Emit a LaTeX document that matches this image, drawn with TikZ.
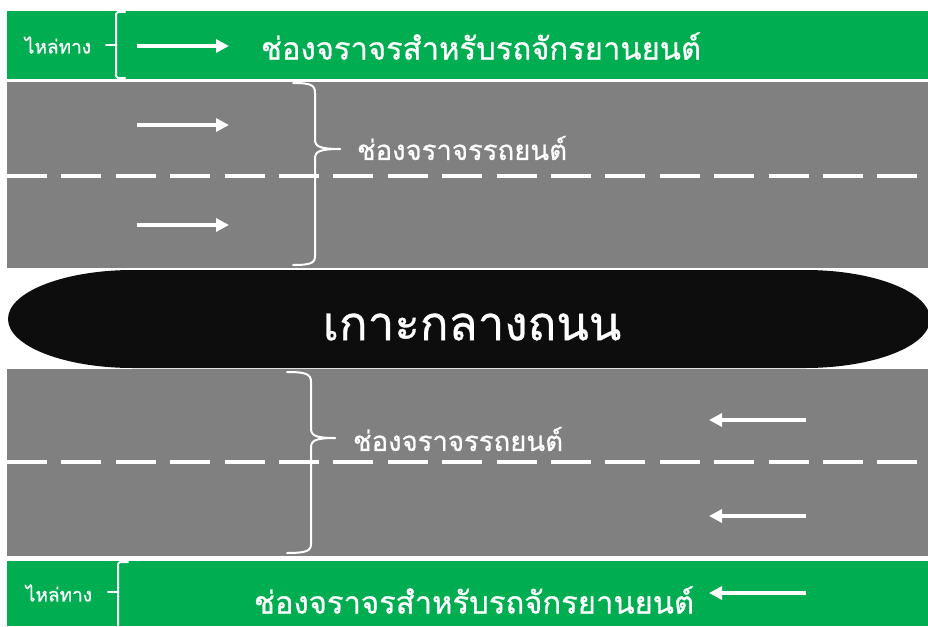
\documentclass[tikz,border=0pt]{standalone}
\usepackage{fontspec}
\newfontfamily\thai[Script=Thai,FakeBold=0.7]{Loma}
\usetikzlibrary{arrows.meta}
\definecolor{lanegreen}{RGB}{0,173,80}
\definecolor{roadgray}{RGB}{128,128,128}
\definecolor{islandblack}{RGB}{13,13,13}
\tikzset{
  band/.style={fill=#1, draw=none},
  lanedash/.style={draw=white, line width=4pt, dash pattern=on 40pt off 14.4pt},
  dirarrow/.style={draw=white, line width=3.5pt, -{Triangle[length=13pt,width=13pt]}},
  bracket/.style={draw=white, line width=2pt, line cap=round},
  lbl/.style={text=white, inner sep=0pt, font=\thai},
}
\begin{document}
\begin{tikzpicture}[x=1pt,y=-1pt]
\useasboundingbox[fill=white] (0,0) rectangle (928,626);
% bands
\path[band=lanegreen] (7,11) rectangle (928,79);
\path[band=roadgray] (7,82) rectangle (928,268);
\path[band=roadgray] (7,369) rectangle (928,556);
\path[band=lanegreen] (7,561) rectangle (928,626);
% island
\path[fill=islandblack] (133,270) -- (805,270)
  arc[start angle=-90,end angle=90,x radius=125,y radius=49]
  -- (133,368)
  arc[start angle=90,end angle=270,x radius=125,y radius=49] -- cycle;
% dashed lane lines
\coordinate (d1a) at (7,176); \coordinate (d1b) at (928,176);
\coordinate (d2a) at (7,462); \coordinate (d2b) at (928,462);
\draw[lanedash] (d1a) -- (d1b);
\draw[lanedash] (d2a) -- (d2b);
% arrows
\coordinate (a1s) at (137,46);  \coordinate (a1e) at (229,46);
\coordinate (a2s) at (137,125); \coordinate (a2e) at (229,125);
\coordinate (a3s) at (137,225); \coordinate (a3e) at (229,225);
\coordinate (a4s) at (806,420); \coordinate (a4e) at (709,420);
\coordinate (a5s) at (806,516); \coordinate (a5e) at (709,516);
\coordinate (a6s) at (806,593); \coordinate (a6e) at (709,593);
\foreach \s/\e in {a1s/a1e,a2s/a2e,a3s/a3e,a4s/a4e,a5s/a5e,a6s/a6e}
  \draw[dirarrow] (\s) -- (\e);
% braces
\draw[bracket] (125,12) -- (118,12) -- (116,14) -- (116,76) -- (118,78) -- (125,78);
\draw[bracket] (106,45) -- (116,45);
\draw[bracket] (128,562) -- (120,562) -- (118,564) -- (118,626);
\draw[bracket] (108,592) -- (118,592);
\draw[bracket] (293,83) .. controls (311,83) and (315,85) .. (315,93) -- (315,139)
  .. controls (315,146) and (318,149) .. (340,149);
\draw[bracket] (340,149) .. controls (318,149) and (315,152) .. (315,159) -- (315,256)
  .. controls (315,263) and (311,265) .. (293,265);
\draw[bracket] (287,372) .. controls (306,372) and (311,374) .. (311,382) -- (311,428)
  .. controls (311,435) and (314,438) .. (335,438);
\draw[bracket] (335,438) .. controls (314,438) and (311,441) .. (311,448) -- (311,544)
  .. controls (311,551) and (306,553) .. (287,553);
% labels
\node[lbl, font=\thai\fontsize{19}{22}\selectfont] (sh1) at (58,45) {ไหล่ทาง};
\node[lbl, font=\thai\fontsize{31}{35}\selectfont] (m1) at (481,46) {ช่องจราจรสำหรับรถจักรยานยนต์};
\node[lbl, font=\thai\fontsize{27.5}{31}\selectfont] (c1) at (462,148) {ช่องจราจรรถยนต์};
\node[lbl, font=\thai\fontsize{47.5}{52}\selectfont] (isl) at (472,327) {เกาะกลางถนน};
\node[lbl, font=\thai\fontsize{27.5}{31}\selectfont] (c2) at (458,439) {ช่องจราจรรถยนต์};
\node[lbl, font=\thai\fontsize{19}{22}\selectfont] (sh2) at (59,593) {ไหล่ทาง};
\node[lbl, font=\thai\fontsize{31}{35}\selectfont] (m2) at (474,600) {ช่องจราจรสำหรับรถจักรยานยนต์};
\end{tikzpicture}
\end{document}
